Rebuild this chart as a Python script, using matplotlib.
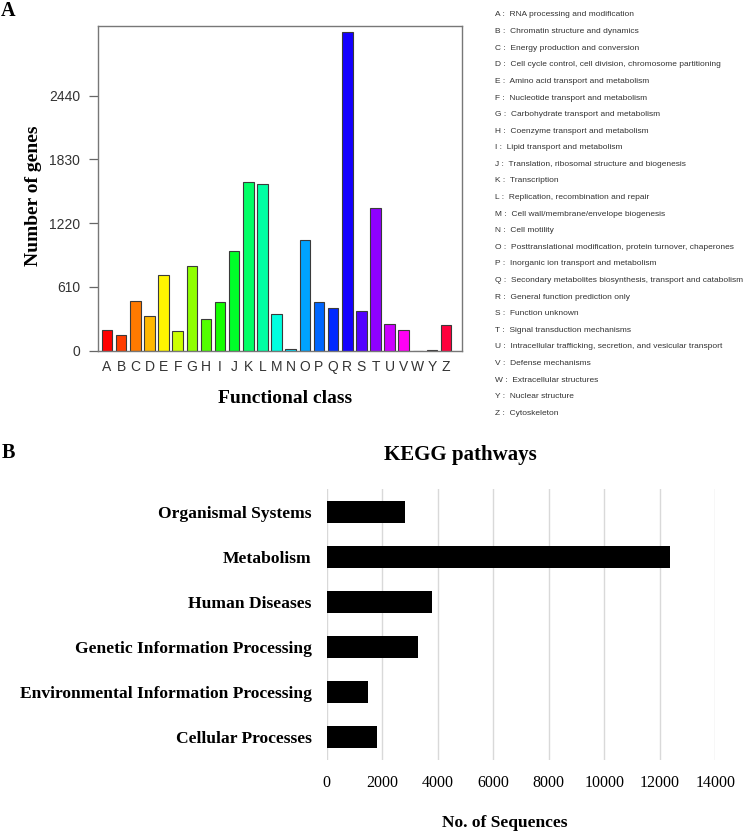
import colorsys
import matplotlib
matplotlib.use("Agg")
import matplotlib.pyplot as plt

W, H = 746, 833

# COG functional classes (panel A)
cog_letters = list("ABCDEFGHIJKLMNOPQRSTUVWYZ")
cog_counts = [198, 150, 479, 335, 721, 185, 810, 300, 463, 957, 1614, 1595, 351,
              13, 1062, 466, 405, 3050, 376, 1369, 258, 195, 1, 6, 246]
cog_ticks = [0, 610, 1220, 1830, 2440]
cog_desc = [
    "RNA processing and modification",
    "Chromatin structure and dynamics",
    "Energy production and conversion",
    "Cell cycle control, cell division, chromosome partitioning",
    "Amino acid transport and metabolism",
    "Nucleotide transport and metabolism",
    "Carbohydrate transport and metabolism",
    "Coenzyme transport and metabolism",
    "Lipid transport and metabolism",
    "Translation, ribosomal structure and biogenesis",
    "Transcription",
    "Replication, recombination and repair",
    "Cell wall/membrane/envelope biogenesis",
    "Cell motility",
    "Posttranslational modification, protein turnover, chaperones",
    "Inorganic ion transport and metabolism",
    "Secondary metabolites biosynthesis, transport and catabolism",
    "General function prediction only",
    "Function unknown",
    "Signal transduction mechanisms",
    "Intracellular trafficking, secretion, and vesicular transport",
    "Defense mechanisms",
    "Extracellular structures",
    "Nuclear structure",
    "Cytoskeleton",
]

# KEGG pathways (panel B)
kegg_categories = ["Organismal Systems", "Metabolism", "Human Diseases",
                   "Genetic Information Processing",
                   "Environmental Information Processing", "Cellular Processes"]
kegg_counts = [2807, 12378, 3791, 3286, 1474, 1809]
kegg_ticks = [0, 2000, 4000, 6000, 8000, 10000, 12000, 14000]

SERIF = "Liberation Serif"
SANS = "Liberation Sans"


def px_box(left, top, right, bottom):
    return [left / W, 1 - bottom / H, (right - left) / W, (bottom - top) / H]


def fx(x):
    return x / W


def fy(y):
    return 1 - y / H


fig = plt.figure(figsize=(W / 100, H / 100), dpi=100)

# ---- panel A ----
n = len(cog_letters)
end = (n - 1) / n
colors = [colorsys.hsv_to_rgb(end * i / (n - 1), 1, 1) for i in range(n)]

ax1 = fig.add_axes(px_box(97.7, 25.7, 461.7, 350.7))
ax1.bar(range(n), cog_counts, width=0.75, color=colors, edgecolor="#3a3a3a", linewidth=0.8)
ax1.set_xlim(-0.66, 25.1)
ax1.set_ylim(0, 3110)
ax1.set_yticks(cog_ticks)
ax1.set_yticklabels([str(t) for t in cog_ticks], family=SANS, fontsize=10, color="#333333")
ax1.set_xticks(range(n))
ax1.set_xticklabels(cog_letters, family=SANS, fontsize=10, color="#333333")
ax1.tick_params(axis="y", length=6.8, width=0.9, color="#666666", pad=6)
ax1.tick_params(axis="x", length=0, pad=7)
for s in ax1.spines.values():
    s.set_color("#777777")
    s.set_linewidth(1.0)

fig.text(fx(33), fy(196), "Number of genes", rotation=90, ha="center", va="center",
         family=SERIF, fontweight="bold", fontsize=14)
fig.text(fx(285), fy(398), "Functional class", ha="center", va="center",
         family=SERIF, fontweight="bold", fontsize=14)
fig.text(fx(1), fy(10.5), "A", ha="left", va="center", family=SERIF, fontweight="bold", fontsize=14.5)

for i, (letter, desc) in enumerate(zip(cog_letters, cog_desc)):
    fig.text(fx(495), fy(15 + i * 16.6), f"{letter} :  {desc}", ha="left", va="center",
             family=SANS, fontsize=6.0, color="#333333")

# ---- panel B ----
ax2 = fig.add_axes(px_box(326.8, 489, 715.3, 760))
ypos = list(range(len(kegg_categories)))
ax2.barh(ypos, kegg_counts, height=0.49, color="black", zorder=3)
ax2.set_ylim(len(kegg_categories) - 0.5, -0.5)
ax2.set_xlim(0, 14000)
ax2.set_xticks(kegg_ticks)
ax2.set_xticklabels([str(t) for t in kegg_ticks], family=SERIF, fontsize=11.5)
ax2.set_yticks(ypos)
ax2.set_yticklabels(kegg_categories, family=SERIF, fontweight="bold", fontsize=12.6)
ax2.tick_params(axis="x", length=0, pad=11)
ax2.tick_params(axis="y", length=0, pad=11)
ax2.grid(axis="x", color="#d9d9d9", linewidth=1.0, zorder=0)
for s in ax2.spines.values():
    s.set_visible(False)

fig.text(fx(460.5), fy(455), "KEGG pathways", ha="center", va="center",
         family=SERIF, fontweight="bold", fontsize=15)
fig.text(fx(505), fy(823), "No. of Sequences", ha="center", va="center",
         family=SERIF, fontweight="bold", fontsize=12.5)
fig.text(fx(1.5), fy(453), "B", ha="left", va="center", family=SERIF, fontweight="bold", fontsize=14.5)

fig.savefig("out.png", dpi=100)
